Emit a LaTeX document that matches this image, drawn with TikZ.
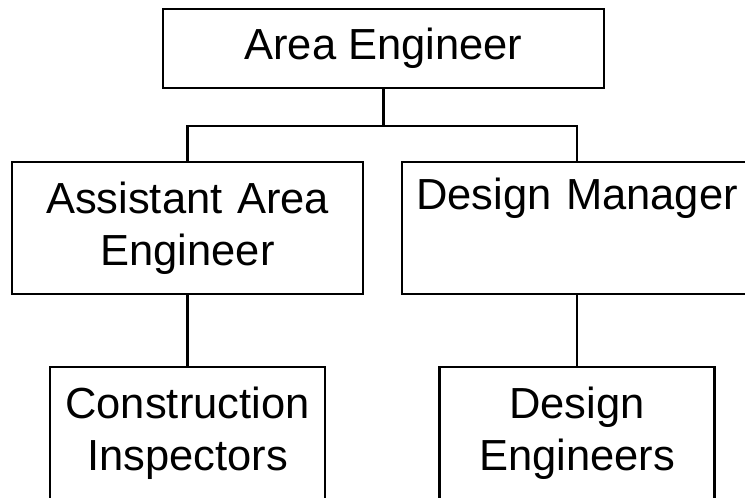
\documentclass[tikz,border=0pt]{standalone}
\usepackage{fontspec}
\setmainfont{Liberation Sans}
\begin{document}
\begin{tikzpicture}[x=1pt,y=-1pt,
  orgbox/.style={draw, line width=2.6pt, inner sep=0pt, align=center,
    font=\fontsize{43.5}{52}\selectfont},
  link/.style={line width=2.6pt}]
  \useasboundingbox (0,0) rectangle (745,498);
  \clip (0,0) rectangle (745,498);
  % boxes
  \node[orgbox, minimum width=441pt, minimum height=79pt] (ae) at (383.5,48.5) {Area Engineer};
  \node[orgbox, minimum width=351pt, minimum height=132pt, text width=351pt] (aae) at (187.5,228) {Assistant Area\\Engineer};
  \node[orgbox, minimum width=350pt, minimum height=132pt, text width=350pt] (dm) at (577,228) {Design Manager\\\strut};
  \node[orgbox, minimum width=275pt, minimum height=132pt, text width=275pt] (ci) at (187.5,433) {Construction\\Inspectors};
  \node[orgbox, minimum width=275pt, minimum height=132pt, text width=275pt] (de) at (577,433) {Design\\Engineers};
  % connectors
  \coordinate (bus) at (383.5,126);
  \draw[link] (ae.south) -- (bus);
  \draw[link] (aae.north) |- (bus) -| (dm.north);
  \draw[link] (aae.south) -- (ci.north);
  \draw[link] (dm.south) -- (de.north);
\end{tikzpicture}
\end{document}
